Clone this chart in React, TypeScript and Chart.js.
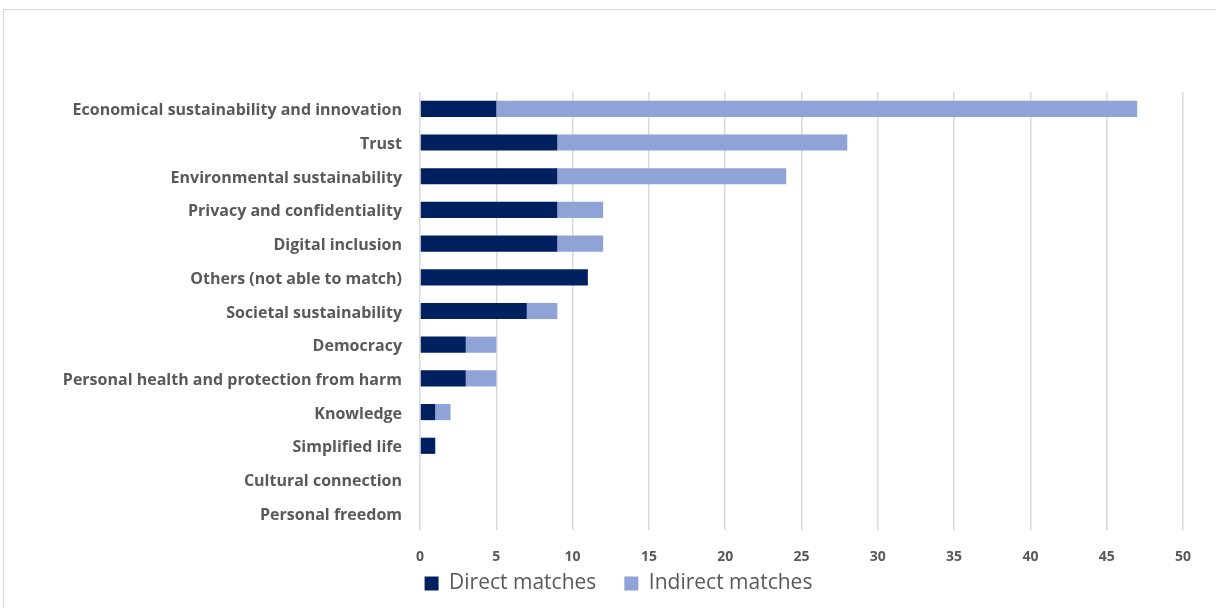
import React, { useEffect, useRef } from "react";
import { Chart, registerables } from "chart.js";

Chart.register(...registerables);

const categories = [
  "Economical sustainability and innovation",
  "Trust",
  "Environmental sustainability",
  "Privacy and confidentiality",
  "Digital inclusion",
  "Others (not able to match)",
  "Societal sustainability",
  "Democracy",
  "Personal health and protection from harm",
  "Knowledge",
  "Simplified life",
  "Cultural connection",
  "Personal freedom",
];

const directMatches = [5, 9, 9, 9, 9, 11, 7, 3, 3, 1, 1, 0, 0];
const indirectMatches = [42, 19, 15, 3, 3, 0, 2, 2, 2, 1, 0, 0, 0];

const xTicks = [0, 5, 10, 15, 20, 25, 30, 35, 40, 45, 50];

const FONT = "'Open Sans', Lato, sans-serif";
const TEXT = "#595959";

const legendShift = {
  id: "legendShift",
  afterLayout(chart: any) {
    const lg = chart.legend;
    if (lg) {
      lg.left += 27;
      lg.right += 27;
      lg.top = 545;
      lg.bottom = 608;
      lg.height = 63;
    }
  },
};

export default function App() {
  const ref = useRef<HTMLCanvasElement | null>(null);

  useEffect(() => {
    if (!ref.current) return;
    const chart = new Chart(ref.current, {
      type: "bar",
      data: {
        labels: categories,
        datasets: [
          {
            label: "Direct matches",
            data: directMatches,
            backgroundColor: "#002060",
            borderWidth: 0,
            barPercentage: 0.48,
            categoryPercentage: 1,
          },
          {
            label: "Indirect matches",
            data: indirectMatches,
            backgroundColor: "#8FA3D6",
            borderWidth: 0,
            barPercentage: 0.48,
            categoryPercentage: 1,
          },
        ],
      },
      plugins: [legendShift],
      options: {
        indexAxis: "y",
        animation: false,
        responsive: false,
        maintainAspectRatio: false,
        layout: { padding: { left: 0, right: 33, top: 92, bottom: 0 } },
        plugins: {
          tooltip: { enabled: false },
          legend: {
            position: "bottom",
            align: "center",
            maxHeight: 42,
            labels: {
              color: TEXT,
              font: { family: FONT, size: 21 },
              boxWidth: 14,
              boxHeight: 14,
              padding: 28,
            },
          },
        },
        scales: {
          x: {
            stacked: true,
            min: 0,
            max: 50,
            afterBuildTicks: (s: any) => {
              s.ticks = xTicks.map((v) => ({ value: v }));
            },
            afterFit: (s: any) => {
              s.height = 36;
            },
            grid: {
              color: "#d9d9d9",
              lineWidth: 1.5,
              drawTicks: false,
            },
            border: { display: false },
            ticks: {
              color: TEXT,
              font: { family: FONT, size: 14, weight: "bold" },
              padding: 19,
            },
          },
          y: {
            stacked: true,
            afterFit: (s: any) => {
              s.width = 420;
            },
            grid: { display: false, drawTicks: false },
            border: { display: false },
            ticks: {
              color: TEXT,
              font: { family: FONT, size: 16, weight: "bold" },
              padding: 18,
              labelOffset: 2,
            },
          },
        },
      },
    });
    return () => chart.destroy();
  }, []);

  return (
    <div style={{ position: "fixed", left: 0, top: 0, width: 1216, height: 608, background: "#fff", overflow: "hidden" }}>
      <div
        style={{
          position: "absolute",
          left: 3,
          top: 9,
          width: 1300,
          height: 700,
          border: "1px solid #d9d9d9",
          boxSizing: "border-box",
        }}
      />
      <canvas ref={ref} width={1216} height={608} style={{ position: "absolute", left: 0, top: 0 }} />
    </div>
  );
}
